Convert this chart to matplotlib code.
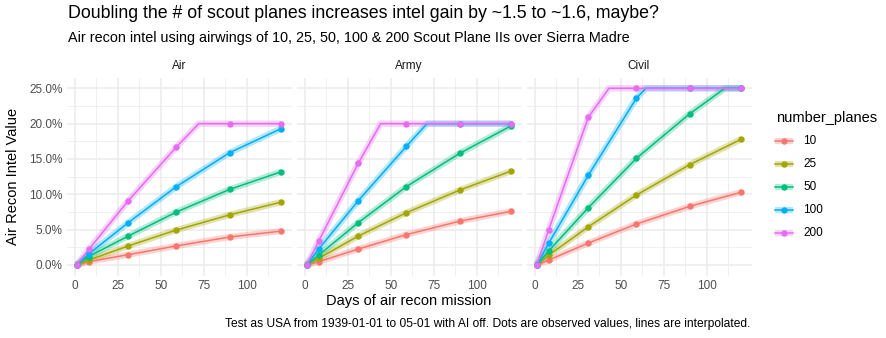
import matplotlib
matplotlib.use("Agg")
import matplotlib.pyplot as plt
from matplotlib.lines import Line2D
from matplotlib.ticker import FuncFormatter, FixedLocator, MultipleLocator

plt.rcParams['font.family'] = ['Liberation Sans', 'DejaVu Sans']

# ---------------- data ----------------
days = [1, 8, 31, 59, 90, 120]
panels = ["Air", "Army", "Civil"]
number_planes = [10, 25, 50, 100, 200]
colors = ["#F8766D", "#A3A500", "#00BF7D", "#00B0F6", "#E76BF3"]
x_ticks = [0, 25, 50, 75, 100]

# intel value in percent, per number of planes
air = {
    10: [0, 0.47, 1.46, 2.7, 3.96, 4.8],
    25: [0, 0.7, 2.7, 4.95, 7.1, 8.9],
    50: [0, 1.2, 4.1, 7.5, 10.7, 13.2],
    100: [0, 1.56, 6.0, 11.1, 15.9, 19.3],
    200: [0, 2.2, 9.1, 16.7, 20.0, 20.0],
}
army = {
    10: [0, 0.47, 2.26, 4.3, 6.2, 7.6],
    25: [0, 0.95, 4.1, 7.4, 10.6, 13.3],
    50: [0, 1.4, 6.0, 11.1, 15.8, 19.7],
    100: [0, 2.26, 9.1, 16.8, 20.0, 20.0],
    200: [0, 3.4, 14.4, 20.0, 20.0, 20.0],
}
civil = {
    10: [0, 0.7, 3.1, 5.8, 8.3, 10.3],
    25: [0, 1.4, 5.4, 9.9, 14.2, 17.8],
    50: [0, 2.0, 8.1, 15.1, 21.4, 25.0],
    100: [0, 3.1, 12.7, 23.6, 25.0, 25.0],
    200: [0, 5.0, 20.9, 25.0, 25.0, 25.0],
}
panel_data = {"Air": air, "Army": army, "Civil": civil}
caps = {"Air": 20.0, "Army": 20.0, "Civil": 25.0}
# day at which the interpolated line reaches the cap
cap_days = {"Air": {200: 72}, "Army": {200: 44, 100: 71},
            "Civil": {200: 43, 100: 64.5, 50: 110.5}}

title = "Doubling the # of scout planes increases intel gain by ~1.5 to ~1.6, maybe?"
subtitle = "Air recon intel using airwings of 10, 25, 50, 100 & 200 Scout Plane IIs over Sierra Madre"
caption = "Test as USA from 1939-01-01 to 05-01 with AI off. Dots are observed values, lines are interpolated."
xlabel = "Days of air recon mission"
ylabel = "Air Recon Intel Value"
legend_title = "number_planes"

# ---------------- layout ----------------
W, H, DPI = 886, 338, 100
fig = plt.figure(figsize=(W / DPI, H / DPI), dpi=DPI)
fig.patch.set_facecolor("white")

def rect(l, t, r, b):
    return [l / W, 1 - b / H, (r - l) / W, (b - t) / H]

def fx(x):
    return x / W

def fy(y):
    return 1 - y / H

PT = 96 / 100.0  # ggplot pt at 96dpi -> matplotlib pt at 100dpi
top, bottom = 77.7, 275.6
lefts = [66.5, 296.5, 526.5]
pw = 225

grid_col = "#EBEBEB"
for i, p in enumerate(panels):
    ax = fig.add_axes(rect(lefts[i], top, lefts[i] + pw, bottom))
    ax.set_facecolor("white")
    for s in ax.spines.values():
        s.set_visible(False)
    ax.set_xlim(-4.95, 125.95)
    ax.set_ylim(-1.5, 26.5)
    ax.xaxis.set_major_locator(FixedLocator(x_ticks))
    ax.xaxis.set_minor_locator(FixedLocator([t + 12.5 for t in x_ticks]))
    ax.yaxis.set_major_locator(MultipleLocator(5))
    ax.yaxis.set_minor_locator(MultipleLocator(2.5))
    ax.grid(which="major", color=grid_col, linewidth=1.1)
    ax.grid(which="minor", color=grid_col, linewidth=0.55)
    ax.set_axisbelow(True)
    ax.tick_params(which="both", length=0, labelsize=8.8 * PT, labelcolor="#4D4D4D", pad=3)
    ax.yaxis.set_major_formatter(FuncFormatter(lambda v, pos: f"{v:.1f}%"))
    if i > 0:
        ax.tick_params(axis="y", labelleft=False)
    data = panel_data[p]
    cap = caps[p]
    for n, c in zip(number_planes, colors):
        vals = data[n]
        lx, ly = [], []
        cd = cap_days[p].get(n)
        for d, v in zip(days, vals):
            if cd is not None and d > cd and (not lx or lx[-1] < cd):
                lx.append(cd)
                ly.append(cap)
            lx.append(d)
            ly.append(v)
        ax.plot(lx, ly, color=c, lw=4.5, alpha=0.3, solid_capstyle="butt", zorder=2)
        ax.plot(lx, ly, color=c, lw=1.1, zorder=3)
        ax.plot(days, vals, "o", color=c, ms=4.6, mec="none", zorder=4)
    fig.text(fx(lefts[i] + pw / 2), fy(66), p, ha="center", va="center",
             fontsize=8.8 * PT, color="#1A1A1A")

fig.text(fx(68), fy(13.5), title, ha="left", va="center", fontsize=12.82)
fig.text(fx(68), fy(37.7), subtitle, ha="left", va="center", fontsize=10.32)
fig.text(fx(409), fy(301), xlabel, ha="center", va="center", fontsize=11 * PT)
fig.text(fx(13), fy(176), ylabel, ha="center", va="center", rotation=90, fontsize=11 * PT)
fig.text(fx(750), fy(324), caption, ha="right", va="center", fontsize=8.63)

# legend (drawn manually)
fig.text(fx(776), fy(118), legend_title, ha="left", va="center", fontsize=11 * PT)
for k, (n, c) in enumerate(zip(number_planes, colors)):
    yy = 141 + k * 23
    fig.add_artist(Line2D([fx(775), fx(793)], [fy(yy), fy(yy)], color=c, lw=4.5, alpha=0.3,
                          solid_capstyle="butt"))
    fig.add_artist(Line2D([fx(775), fx(793)], [fy(yy), fy(yy)], color=c, lw=1.1))
    fig.add_artist(Line2D([fx(784)], [fy(yy)], marker="o", color=c, ms=4.6, mec="none"))
    fig.text(fx(803), fy(yy), str(n), ha="left", va="center", fontsize=8.8 * PT)

fig.savefig("out.png", dpi=DPI)
